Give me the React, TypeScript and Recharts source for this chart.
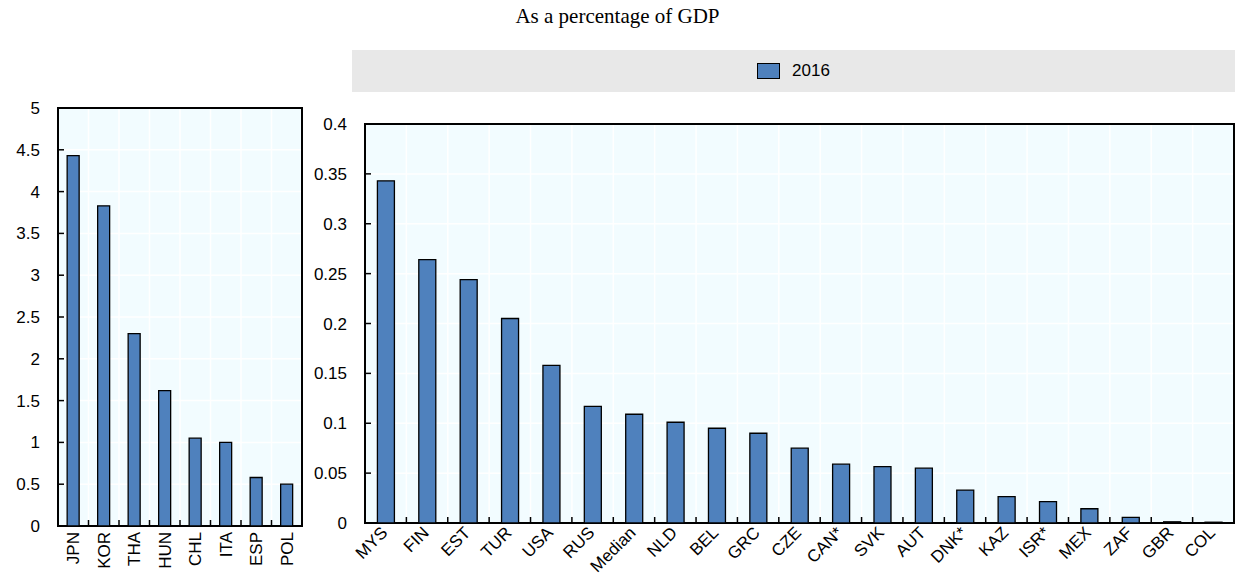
import React from "react";
import {
  BarChart,
  Bar,
  XAxis,
  YAxis,
  CartesianGrid,
  ReferenceArea,
} from "recharts";

// Left panel (large values)
const leftCountries = ["JPN", "KOR", "THA", "HUN", "CHL", "ITA", "ESP", "POL"];
const leftValues = [4.43, 3.83, 2.3, 1.62, 1.05, 1.0, 0.58, 0.5];
const leftTicks = [0, 0.5, 1, 1.5, 2, 2.5, 3, 3.5, 4, 4.5, 5];

// Right panel (small values)
const rightCountries = [
  "MYS", "FIN", "EST", "TUR", "USA", "RUS", "Median", "NLD", "BEL", "GRC", "CZE",
  "CAN*", "SVK", "AUT", "DNK*", "KAZ", "ISR*", "MEX", "ZAF", "GBR", "COL",
];
const rightValues = [
  0.343, 0.264, 0.244, 0.205, 0.158, 0.117, 0.109, 0.101, 0.095, 0.09, 0.075,
  0.059, 0.0565, 0.055, 0.033, 0.0265, 0.0215, 0.0143, 0.0057, 0.0012, 0.0008,
];
const rightTicks = [0, 0.05, 0.1, 0.15, 0.2, 0.25, 0.3, 0.35, 0.4];

const seriesName = "2016";
const title = "As a percentage of GDP";

const FONT = "'Liberation Sans', Arial, sans-serif";
const BAR = "#4F81BD";
const PLOT_BG = "#F2FCFF";

const leftData = leftCountries.map((c, i) => ({ country: c, value: leftValues[i] }));
const rightData = rightCountries.map((c, i) => ({ country: c, value: rightValues[i] }));

// inward tick on the y axis + label
const YTick = (props: any) => {
  const { x, y, payload } = props;
  return (
    <g>
      <line x1={x + 18} x2={x + 24} y1={y} y2={y} stroke="#000" strokeWidth={1.5} />
      <text x={x} y={y} dy={6} textAnchor="end" fontSize={17} fontFamily={FONT} fill="#000">
        {String(payload.value)}
      </text>
    </g>
  );
};

// category label + inward boundary tick to the left of the band
const makeXTick = (band: number, angle: number, gap: number) => (props: any) => {
  const { x, y, payload, index } = props;
  const axisY = y - gap;
  return (
    <g>
      {index > 0 && (
        <line x1={x - band / 2} x2={x - band / 2} y1={axisY} y2={axisY - 6} stroke="#000" strokeWidth={1.5} />
      )}
      <text
        x={x}
        y={y}
        transform={`rotate(${angle}, ${x}, ${y})`}
        textAnchor="end"
        dy={angle === -90 ? 6 : 4}
        fontSize={17}
        fontFamily={FONT}
        fill="#000"
      >
        {payload.value}
      </text>
    </g>
  );
};

const boundaries = (n: number) => ({ offset }: any) =>
  Array.from({ length: n - 1 }, (_, i) => offset.left + ((i + 1) * offset.width) / n);

const LEFT_W = 304;
const LEFT_PLOT_W = 244;
const RIGHT_W = 930;
const RIGHT_PLOT_W = 869;

export default function App() {
  return (
    <div style={{ position: "absolute", left: 0, top: 0, width: 1235, height: 579, background: "#fff", overflow: "hidden" }}>
      <div
        style={{
          position: "absolute",
          top: 4,
          left: 0,
          width: 1235,
          textAlign: "center",
          fontFamily: "'Liberation Serif', 'Times New Roman', serif",
          fontSize: 21,
        }}
      >
        {title}
      </div>

      <div
        style={{
          position: "absolute",
          left: 352,
          top: 50,
          width: 883,
          height: 42,
          background: "#E8E8E8",
          display: "flex",
          alignItems: "center",
          justifyContent: "center",
          fontFamily: FONT,
          fontSize: 17,
        }}
      >
        <span
          style={{
            display: "inline-block",
            width: 21,
            height: 14,
            background: BAR,
            border: "1px solid #000",
            marginRight: 12,
          }}
        />
        <span>{seriesName}</span>
      </div>

      <div style={{ position: "absolute", left: 0, top: 100 }}>
        <BarChart
          width={LEFT_W}
          height={479}
          data={leftData}
          margin={{ top: 8, right: 2, bottom: 0, left: 0 }}
          barCategoryGap="30%"
        >
          <CartesianGrid
            fill={PLOT_BG}
            stroke="#fff"
            strokeWidth={1.5}
            verticalCoordinatesGenerator={boundaries(leftCountries.length)}
          />
          <XAxis
            dataKey="country"
            height={53}
            axisLine={false}
            tickLine={false}
            tickSize={0}
            tickMargin={6}
            interval={0}
            tick={makeXTick(LEFT_PLOT_W / leftCountries.length, -90, 6)}
          />
          <YAxis
            width={58}
            domain={[0, 5]}
            ticks={leftTicks}
            axisLine={false}
            tickLine={false}
            tickSize={0}
            tickMargin={18}
            interval={0}
            tick={<YTick />}
          />
          <Bar dataKey="value" fill={BAR} stroke="#000" strokeWidth={1.3} isAnimationActive={false} />
          <ReferenceArea
            x1={leftCountries[0]}
            x2={leftCountries[leftCountries.length - 1]}
            y1={0}
            y2={5}
            fill="none"
            stroke="#000"
            strokeWidth={2}
          />
        </BarChart>
      </div>

      <div style={{ position: "absolute", left: 305, top: 116 }}>
        <BarChart
          width={RIGHT_W}
          height={463}
          data={rightData}
          margin={{ top: 8, right: 1, bottom: 0, left: 0 }}
          barCategoryGap="30%"
        >
          <CartesianGrid
            fill={PLOT_BG}
            stroke="#fff"
            strokeWidth={1.5}
            verticalCoordinatesGenerator={boundaries(rightCountries.length)}
          />
          <XAxis
            dataKey="country"
            height={56}
            axisLine={false}
            tickLine={false}
            tickSize={0}
            tickMargin={8}
            interval={0}
            tick={makeXTick(RIGHT_PLOT_W / rightCountries.length, -45, 8)}
          />
          <YAxis
            width={60}
            domain={[0, 0.4]}
            ticks={rightTicks}
            axisLine={false}
            tickLine={false}
            tickSize={0}
            tickMargin={18}
            interval={0}
            tick={<YTick />}
          />
          <Bar dataKey="value" fill={BAR} stroke="#000" strokeWidth={1.3} isAnimationActive={false} />
          <ReferenceArea
            x1={rightCountries[0]}
            x2={rightCountries[rightCountries.length - 1]}
            y1={0}
            y2={0.4}
            fill="none"
            stroke="#000"
            strokeWidth={2}
          />
        </BarChart>
      </div>
    </div>
  );
}
